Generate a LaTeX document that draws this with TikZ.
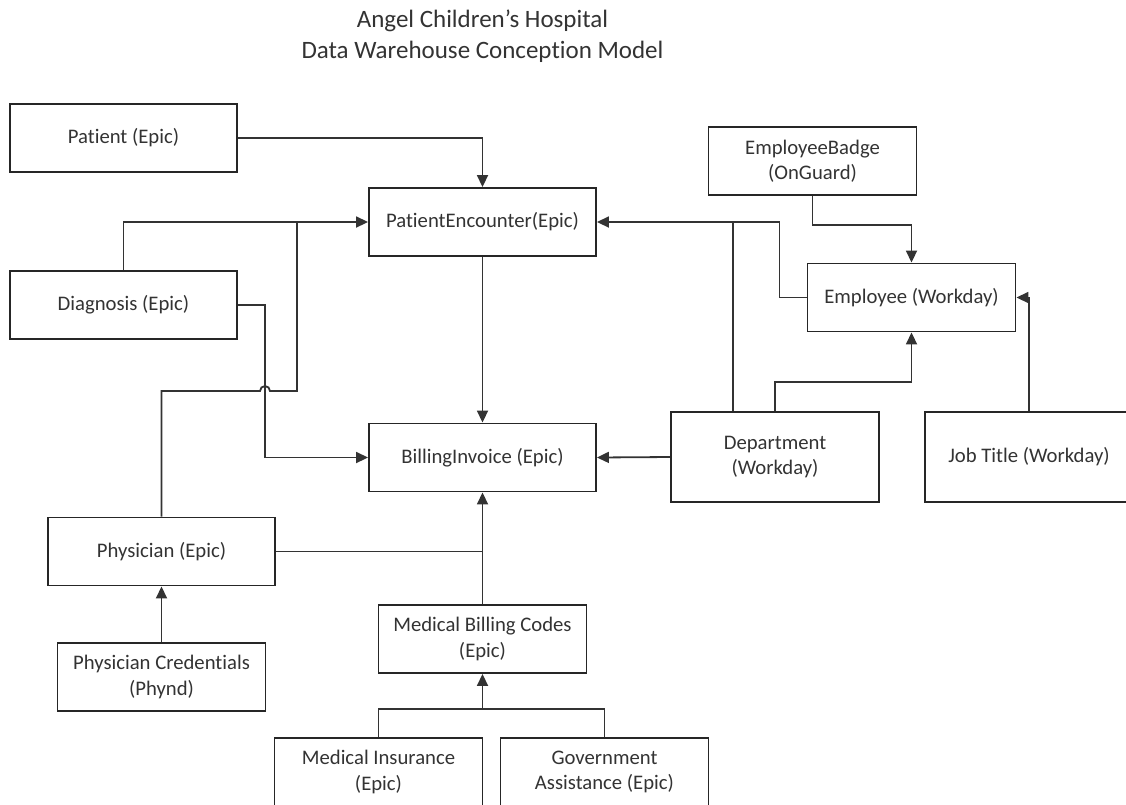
\documentclass[tikz,border=0pt]{standalone}
\usepackage{fontspec}
\setmainfont{Carlito}[Ligatures=CommonOff]
\usetikzlibrary{arrows.meta}

\begin{document}
\begin{tikzpicture}[x=1pt, y=-1pt, line join=miter,
    entity/.style={draw=black!85, line width=1.9pt, fill=white, text=black!80,
      minimum width=208pt, minimum height=68pt, align=center, inner sep=2pt,
      font=\fontsize{20.7}{25.3}\selectfont},
    wide/.style={minimum width=227pt},
    tall/.style={minimum height=90pt},
    rel/.style={draw=black!80, line width=1.8pt},
    feed/.style={rel, -{Triangle[length=12pt, width=11pt]}}]
    \useasboundingbox (0,0) rectangle (1126,804);
    % --- titulo
    \node[font=\fontsize{25}{31}\selectfont, text=black!80, align=center] (title)
         at (482.5,36) {Angel Children’s Hospital\\Data Warehouse Conception Model};
    % --- tablas de origen (Epic)
    \node[entity, wide] (patient)   at (123.5,138)   {Patient (Epic)};
    \node[entity, wide] (diagnosis) at (123.5,305)   {Diagnosis (Epic)};
    \node[entity, wide] (encounter) at (482.5,222)   {PatientEncounter(Epic)};
    \node[entity, wide] (invoice)   at (482.5,457.5) {BillingInvoice (Epic)};
    \node[entity, wide] (physician) at (161.5,551.5) {Physician (Epic)};
    \node[entity] (credentials) at (161.5,677) {Physician Credentials\\(Phynd)};
    \node[entity] (codes)       at (482.5,639) {Medical Billing Codes\\(Epic)};
    \node[entity] (insurance)   at (378.5,772) {Medical Insurance\\(Epic)};
    \node[entity] (assistance)  at (604.5,772) {Government\\Assistance (Epic)};
    % --- tablas de personal (Workday, OnGuard)
    \node[entity] (badge)      at (812.5,161)   {EmployeeBadge\\(OnGuard)};
    \node[entity] (employee)   at (911.5,297.5) {Employee (Workday)};
    \node[entity, tall] (department) at (775,457)  {Department\\(Workday)};
    \node[entity, tall] (jobtitle)   at (1029,457) {Job Title (Workday)};
    % --- puntos de union
    \coordinate (hop)    at (265,391);
    \coordinate (mergeP) at (297,222);
    \coordinate (mergeB) at (482.5,709);
    % --- relaciones hacia PatientEncounter
    \draw[feed] (patient.east) -| (encounter.north);
    \draw[feed] (diagnosis.north) |- (encounter.west);
    \draw[rel] (physician.north) |- ([xshift=-5pt]hop)
         arc[start angle=180, end angle=0, radius=5pt] -| (mergeP);
    \draw[feed] (employee.west) -- ++(-27,0) |- (encounter.east);
    \draw[rel] ([xshift=-42pt]department.north)
         -- ([xshift=-42pt]department.north |- encounter.east);
    % --- relaciones hacia BillingInvoice
    \draw[feed] (encounter.south) -- (invoice.north);
    \draw[feed] (diagnosis.east) -| (hop) |- (invoice.west);
    \draw[feed] (department.west) -- (invoice.east);
    \draw[feed] (codes.north) -- (invoice.south);
    \draw[rel] (physician.east) -- (physician.east -| invoice.south);
    \draw[feed] (credentials.north) -- (physician.south);
    \draw[feed] (insurance.north) |- (mergeB) -- (codes.south);
    \draw[rel] (assistance.north) |- (mergeB);
    % --- relaciones hacia Employee
    \draw[feed] (badge.south) -- ++(0,29) -| (employee.north);
    \draw[feed] (department.north) -- ++(0,-29) -| (employee.south);
    \draw[feed] (jobtitle.north) |- (employee.east);
\end{tikzpicture}
\end{document}
